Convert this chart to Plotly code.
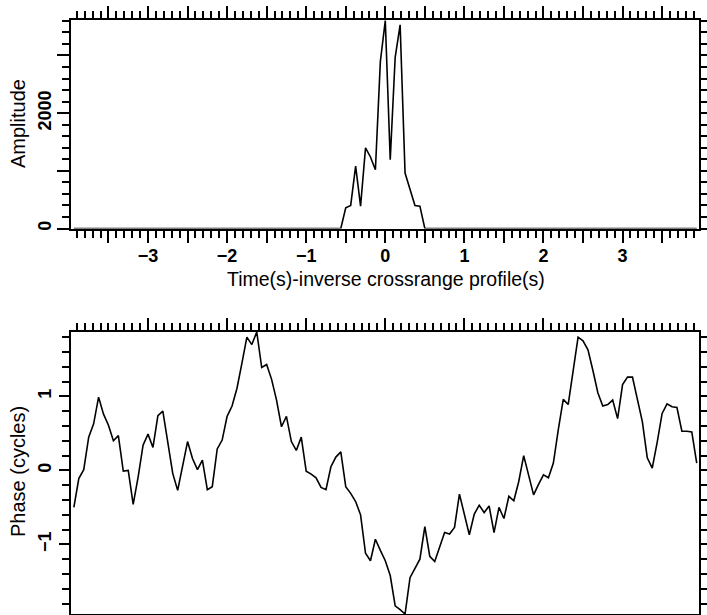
import numpy as np
import plotly.graph_objects as go

# sample times (s): 1/16 s grid
time_s = np.arange(-63, 64) / 16.0

# amplitude of the inverse crossrange profile
amplitude = ([0] * 55
             + [360, 400, 1083, 388, 1397, 1240, 1020, 2893,
                3606, 1194, 2968, 3530, 962, 696, 400, 388]
             + [0] * 56)

# phase (cycles)
phase = [
    -0.50, -0.11, 0.01, 0.45, 0.63, 0.99, 0.76, 0.61, 0.40, 0.47,
    -0.01, 0.00, -0.46, -0.09, 0.34, 0.49, 0.31, 0.74, 0.80, 0.39,
    -0.04, -0.27, 0.05, 0.39, 0.16, 0.01, 0.14, -0.26, -0.22, 0.29,
    0.41, 0.73, 0.87, 1.11, 1.45, 1.80, 1.70, 1.87, 1.39, 1.43,
    1.23, 0.95, 0.59, 0.73, 0.39, 0.27, 0.45, -0.01, -0.05, -0.10,
    -0.23, -0.26, 0.05, 0.18, 0.25, -0.22, -0.31, -0.42, -0.60, -1.12,
    -1.22, -0.93, -1.08, -1.22, -1.42, -1.83, -1.88, -1.94, -1.45, -1.32,
    -1.20, -0.76, -1.16, -1.23, -1.03, -0.84, -0.86, -0.77, -0.32, -0.59,
    -0.87, -0.59, -0.47, -0.57, -0.48, -0.84, -0.50, -0.65, -0.35, -0.41,
    -0.15, 0.20, -0.05, -0.33, -0.19, -0.06, -0.10, 0.10, 0.55, 0.96,
    0.89, 1.35, 1.80, 1.75, 1.63, 1.35, 1.05, 0.87, 0.89, 0.95,
    0.70, 1.16, 1.26, 1.26, 0.97, 0.66, 0.17, 0.03, 0.38, 0.77,
    0.90, 0.86, 0.85, 0.53, 0.53, 0.52, 0.10,
]

x_tick_vals = [-3.5, -3, -2.5, -2, -1.5, -1, -0.5, 0, 0.5, 1, 1.5, 2, 2.5, 3, 3.5]
x_tick_text = ["", "\u22123", "", "\u22122", "", "\u22121", "", "0", "", "1", "", "2", "", "3", ""]
amp_tick_vals = [0, 1000, 2000, 3000]
amp_tick_text = ["0", "", "2000", ""]
phase_tick_vals = [-1, 0, 1]
phase_tick_text = ["\u22121", "0", "1"]

FONT = "Liberation Sans Narrow, Arial Narrow, Liberation Sans, sans-serif"
W, H = 707, 615
x_dom = [70.5 / W, 698.5 / W]
top_dom = [1 - 228.5 / H, 1 - 20 / H]
bot_dom = [1 - 614 / H, 1 - 332 / H]

fig = go.Figure()
fig.add_trace(go.Scatter(x=time_s, y=amplitude, mode="lines",
                         line=dict(color="black", width=1.6),
                         xaxis="x", yaxis="y", showlegend=False))
fig.add_trace(go.Scatter(x=time_s, y=phase, mode="lines",
                         line=dict(color="black", width=1.6),
                         xaxis="x2", yaxis="y2", showlegend=False))

tick_font = dict(family=FONT, size=18, color="black", weight="bold")
common_x = dict(
    domain=x_dom, range=[-3.98, 3.96], showline=True, linecolor="black", linewidth=2,
    mirror="allticks", ticks="outside", ticklen=12, tickwidth=1.5, tickcolor="black",
    tickmode="array", tickvals=x_tick_vals, ticktext=x_tick_text,
    showgrid=False, zeroline=False,
    minor=dict(dtick=0.1, tick0=0, ticks="outside", ticklen=7, tickwidth=1.5,
               tickcolor="black", showgrid=False),
    tickfont=tick_font,
)
fig.update_layout(
    width=W, height=H, margin=dict(l=0, r=0, t=0, b=0, autoexpand=False),
    paper_bgcolor="white", plot_bgcolor="white",
    xaxis=dict(anchor="y", ticklabelstandoff=-2, **common_x),
    xaxis2=dict(anchor="y2", showticklabels=False, **common_x),
    yaxis=dict(
        domain=top_dom, anchor="x", range=[0, 3615], showline=True, linecolor="black",
        linewidth=2, mirror="allticks", ticks="outside", ticklen=12, tickwidth=1.5,
        tickcolor="black", tickmode="array", tickvals=amp_tick_vals, ticktext=amp_tick_text,
        tickangle=-90, showgrid=False, zeroline=False, ticklabelstandoff=-2,
        minor=dict(dtick=200, tick0=0, ticks="outside", ticklen=7, tickwidth=1.5,
                   tickcolor="black", showgrid=False),
        tickfont=tick_font,
    ),
    yaxis2=dict(
        domain=bot_dom, anchor="x2", range=[min(phase), max(phase)], showline=True,
        linecolor="black", linewidth=2, mirror="allticks", ticks="outside", ticklen=10,
        tickwidth=1.5, tickcolor="black", tickmode="array", tickvals=phase_tick_vals,
        ticktext=phase_tick_text, tickangle=-90, showgrid=False, zeroline=False,
        minor=dict(dtick=0.2, tick0=0, ticks="outside", ticklen=7, tickwidth=1.5,
                   tickcolor="black", showgrid=False),
        tickfont=tick_font,
    ),
    annotations=[
        dict(text="Time(s)-inverse crossrange profile(s)", xref="paper", yref="paper",
             x=386 / W, y=1 - 279 / H, showarrow=False,
             xanchor="center", yanchor="middle",
             font=dict(family=FONT, size=19.5, color="black")),
        dict(text="Amplitude", xref="paper", yref="paper", textangle=-90,
             x=18 / W, y=1 - 124 / H, showarrow=False, xanchor="center", yanchor="middle",
             font=dict(family=FONT, size=20, color="black")),
        dict(text="Phase (cycles)", xref="paper", yref="paper", textangle=-90,
             x=18 / W, y=1 - 472 / H, showarrow=False, xanchor="center", yanchor="middle",
             font=dict(family=FONT, size=20, color="black")),
    ],
)

fig.write_html("out.html")
